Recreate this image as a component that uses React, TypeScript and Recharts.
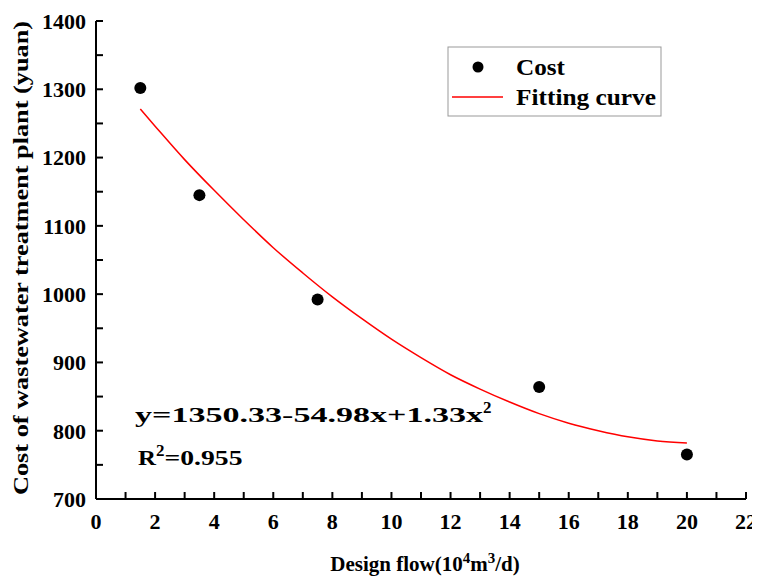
import { ComposedChart, Scatter, Line, XAxis, YAxis } from 'recharts';

// measured cost points
const costPoints = [
  { x: 1.5, y: 1302 },
  { x: 3.5, y: 1145 },
  { x: 7.5, y: 992 },
  { x: 15, y: 864 },
  { x: 20, y: 765 },
];

// fitting curve
const fitPoints = [
  { x: 1.5, y: 1271 },
  { x: 2, y: 1246 },
  { x: 3, y: 1197 },
  { x: 4, y: 1152 },
  { x: 5, y: 1109 },
  { x: 6, y: 1068 },
  { x: 7, y: 1031 },
  { x: 8, y: 996 },
  { x: 9, y: 964 },
  { x: 10, y: 934 },
  { x: 11, y: 907 },
  { x: 12, y: 882 },
  { x: 13, y: 861 },
  { x: 14, y: 842 },
  { x: 15, y: 825 },
  { x: 16, y: 811 },
  { x: 17, y: 800 },
  { x: 18, y: 791 },
  { x: 19, y: 785 },
  { x: 20, y: 782 },
];

const xTicks = [0, 1, 2, 3, 4, 5, 6, 7, 8, 9, 10, 11, 12, 13, 14, 15, 16, 17, 18, 19, 20, 21, 22];
const yTicks = [700, 750, 800, 850, 900, 950, 1000, 1050, 1100, 1150, 1200, 1250, 1300, 1350, 1400];

const FONT = '"Liberation Serif", "Times New Roman", serif';
const tickStyle = { fontFamily: FONT, fontWeight: 'bold', fontSize: 22, fill: '#000' };
const axisStroke = { stroke: '#000', strokeWidth: 2 };

export default function App() {
  return (
    <ComposedChart width={752} height={568} margin={{ top: 13, right: 14, left: 0, bottom: 0 }}>
      <XAxis
        type="number"
        dataKey="x"
        domain={[0, 22]}
        ticks={xTicks}
        interval={0}
        tickSize={-7}
        tickMargin={21}
        tickLine={axisStroke}
        tick={tickStyle}
        tickFormatter={(v: number) => (v % 2 === 0 ? String(v) : '')}
        height={77}
        axisLine={axisStroke}
      />
      <XAxis xAxisId="top" orientation="top" type="number" domain={[0, 22]} height={0} tick={false} tickLine={false} axisLine={axisStroke} />
      <YAxis
        type="number"
        dataKey="y"
        domain={[700, 1400]}
        ticks={yTicks}
        interval={0}
        tickSize={-7}
        tickMargin={17}
        tickLine={axisStroke}
        tick={tickStyle}
        tickFormatter={(v: number) => (v % 100 === 0 ? String(v) : '')}
        width={88}
        axisLine={axisStroke}
      />
      <YAxis yAxisId="right" orientation="right" type="number" domain={[700, 1400]} width={0} tick={false} tickLine={false} axisLine={axisStroke} />
      <Line
        data={fitPoints}
        dataKey="y"
        type="monotone"
        stroke="#ff0000"
        strokeWidth={1.5}
        dot={false}
        activeDot={false}
        isAnimationActive={false}
      />
      <Scatter data={costPoints} dataKey="y" fill="#000" shape={(p: any) => <circle cx={p.cx} cy={p.cy} r={6} fill="#000" />} isAnimationActive={false} />

      <g>
        <rect x={440} y={39} width={213} height={69} fill="#fff" stroke="#999" strokeWidth={1} />
        <circle cx={470} cy={59} r={5.5} fill="#000" />
        <text x={508} y={67} textLength={49} lengthAdjust="spacingAndGlyphs" fontFamily={FONT} fontWeight="bold" fontSize={23} fill="#000">Cost</text>
        <line x1={444} y1={89} x2={495} y2={89} stroke="#ff0000" strokeWidth={1.5} />
        <text x={508} y={97} textLength={140} lengthAdjust="spacingAndGlyphs" fontFamily={FONT} fontWeight="bold" fontSize={23} fill="#000">Fitting curve</text>
      </g>

      <text x={127} y={414} fontFamily={FONT} fontWeight="bold" fontSize={22} fill="#000">
        <tspan textLength={348} lengthAdjust="spacingAndGlyphs">y=1350.33-54.98x+1.33x</tspan>
        <tspan dy={-9} fontSize={17}>2</tspan>
      </text>
      <text x={130} y={457} fontFamily={FONT} fontWeight="bold" fontSize={22} fill="#000">
        <tspan textLength={18} lengthAdjust="spacingAndGlyphs">R</tspan>
        <tspan dy={-9} fontSize={17}>2</tspan>
        <tspan dy={9} textLength={78} lengthAdjust="spacingAndGlyphs">=0.955</tspan>
      </text>
      <text x={417} y={563} textAnchor="middle" fontFamily={FONT} fontWeight="bold" fontSize={21} fill="#000">
        Design flow(10<tspan dy={-8} fontSize={15}>4</tspan><tspan dy={8}>m</tspan><tspan dy={-8} fontSize={15}>3</tspan><tspan dy={8}>/d)</tspan>
      </text>
      <text x={20} y={250} transform="rotate(-90 20 250)" textAnchor="middle" textLength={474} lengthAdjust="spacingAndGlyphs" fontFamily={FONT} fontWeight="bold" fontSize={22} fill="#000">
        Cost of wastewater treatment plant (yuan)
      </text>
    </ComposedChart>
  );
}
